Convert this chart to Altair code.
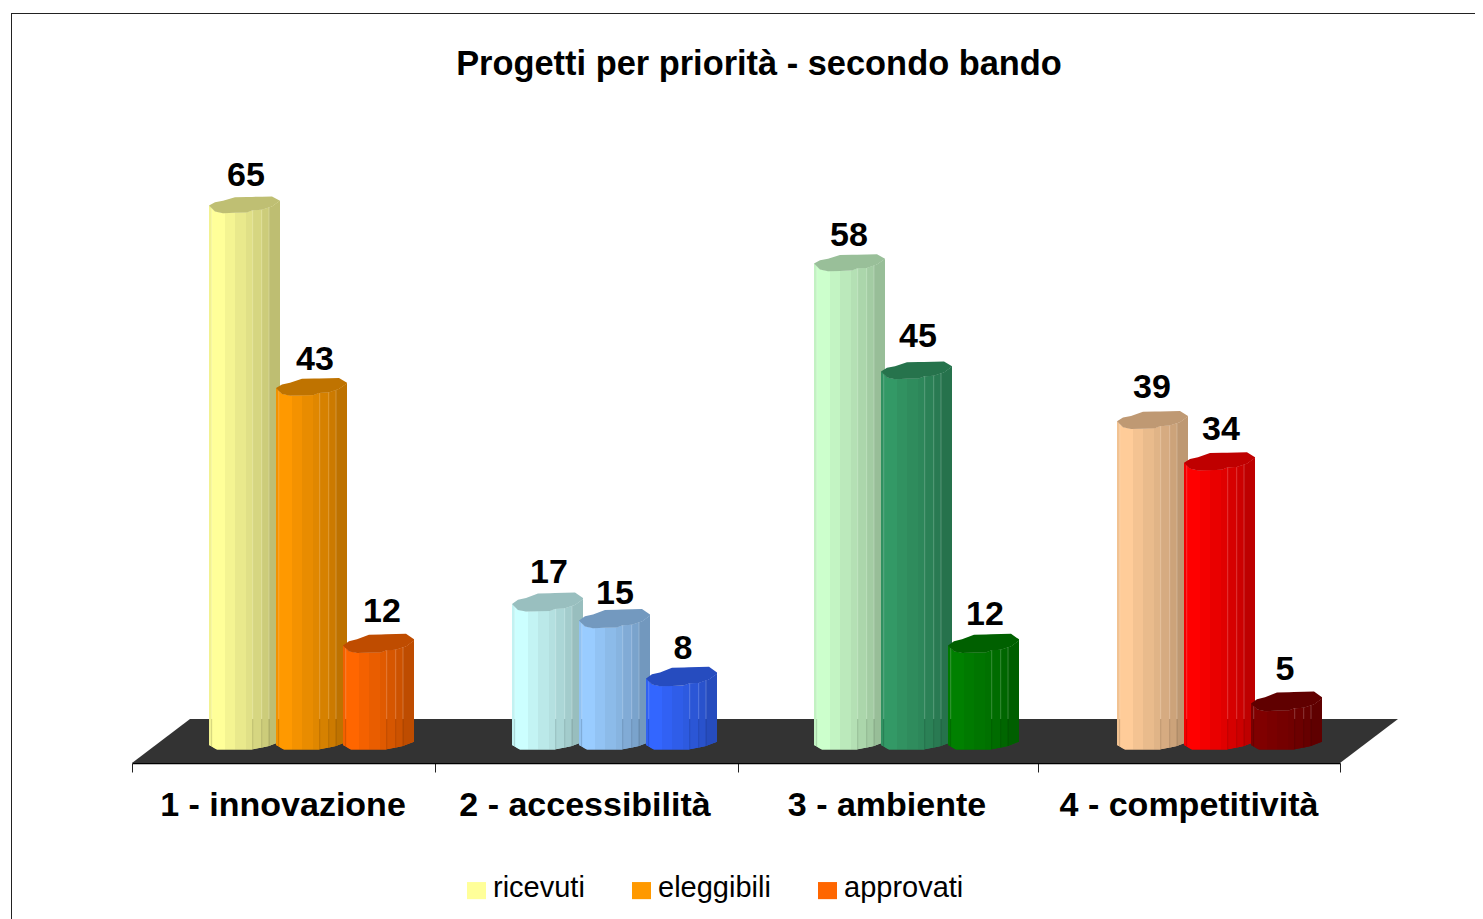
import altair as alt
import numpy as np
import pandas as pd

# ---------- values ----------
categories = ["1 - innovazione", "2 - accessibilità", "3 - ambiente", "4 - competitività"]
series = ["ricevuti", "eleggibili", "approvati"]
ricevuti = [65, 17, 58, 39]
eleggibili = [43, 15, 45, 34]
approvati = [12, 8, 12, 5]
bar_colors = [
    ["#FFFF99", "#FF9900", "#FF6600"],
    ["#CCFFFF", "#99CCFF", "#3366FF"],
    ["#CCFFCC", "#339966", "#008000"],
    ["#FFCC99", "#FF0000", "#800000"],
]
legend_colors = ["#FFFF99", "#FF9900", "#FF6600"]
title_text = "Progetti per priorità - secondo bando"
# small placement nudges of the value labels, per series then category (px)
label_up = [[2, 3, 0, 5], [0, -1, 7, 5], [5, 2, 2, 6]]
label_right = [[0, 0, -2, -2], [2, -1, 0, 0], [2, 0, 0, -3]]
group_shift = [0, 1, 1, 2]

# ---------- geometry of the chart ----------
PX_X = 302.0          # pixels per category
PX_Y = 8.3            # pixels per value unit
W, H = 1208, 750
Y_MIN = -18 / PX_Y
Y_MAX = Y_MIN + H / PX_Y
BAR_W = 71.0
BAR_START = 77.0
BAR_STEP = 67.0
FLOOR_BACK = 26 / PX_Y
FLOOR_SKEW = 58 / PX_X

# cylinder profile, in pixels relative to the bar's left edge / top-left corner
lower_x = [0, 6, 14, 38, 43, 53, 63, 71]
lower_y = [0, 6, 7.7, 7, 5, 4.3, 1, -4.7]
upper_x = [0, 6, 14, 26, 63, 71]
upper_y = [0, -3.3, -4.7, -8.3, -9, -4.7]
bottom_x = [0, 8, 43, 60, 71]
bottom_y = [0, 4.5, 4.5, 1, -3.3]
strip_edges = [0, 2.7, 16, 26, 37, 43.7, 52.7, 60, 71]
strip_shades = [0.95, 1.0, 0.955, 0.915, 0.88, 0.84, 0.80, 0.745]
cap_shade = 0.75
line_edges = [2.7, 43.7, 52.7, 60]
CAP_PERSPECTIVE = 0.35  # lower bars show more of their top


def shade(hex_color, f):
    r, g, b = (int(hex_color[i:i + 2], 16) for i in (1, 3, 5))
    return "#%02x%02x%02x" % (round(r * f), round(g * f), round(b * f))


values = [ricevuti, eleggibili, approvati]
area_rows, line_rows, label_rows = [], [], []
gid = 0
for c in range(len(categories)):
    for s in range(len(series)):
        v = values[s][c]
        base = bar_colors[c][s]
        left = c + (BAR_START + group_shift[c] + s * BAR_STEP) / PX_X
        k = 1 + (65 - v) / 65 * CAP_PERSPECTIVE
        to_x = lambda dx: left + dx / PX_X
        low = lambda dx: v - np.interp(dx, lower_x, lower_y) / PX_Y
        bot = lambda dx: -np.interp(dx, bottom_x, bottom_y) / PX_Y
        up = lambda dx: v - k * np.interp(dx, upper_x, upper_y) / PX_Y
        knots = sorted(set(lower_x + bottom_x + strip_edges))
        # underlay of the whole body
        gid += 1
        for dx in knots:
            area_rows.append(dict(g=gid, x=to_x(dx), y=low(dx), y2=bot(dx), fill=shade(base, 0.9)))
        # facets of the cylinder
        for i, f in enumerate(strip_shades):
            a, b = strip_edges[i], strip_edges[i + 1]
            gid += 1
            for dx in [q for q in knots if a <= q <= b]:
                area_rows.append(dict(g=gid, x=to_x(dx), y=low(dx), y2=bot(dx), fill=shade(base, f)))
        # top cap
        gid += 1
        for dx in sorted(set(lower_x + upper_x)):
            area_rows.append(dict(g=gid, x=to_x(dx), y=low(dx), y2=up(dx), fill=shade(base, cap_shade)))
        # thin facet lines: light above the floor, dark where the floor shows through
        for dx in line_edges:
            line_rows.append(dict(x=to_x(dx), y=min(low(dx), FLOOR_BACK), y2=bot(dx), c="#000000", o=0.14))
            if low(dx) > FLOOR_BACK:
                line_rows.append(dict(x=to_x(dx), y=low(dx), y2=FLOOR_BACK, c="#ffffff", o=0.22))
        label_rows.append(dict(
            x=to_x(BAR_W / 2 + 1.5 + label_right[s][c]),
            y=v + label_up[s][c] / PX_Y, t=str(v)))

areas = pd.DataFrame(area_rows)
lines = pd.DataFrame(line_rows)
labels = pd.DataFrame(label_rows)
floor = pd.DataFrame({
    "x": [0, FLOOR_SKEW, 4, 4 + FLOOR_SKEW],
    "y": [Y_MIN, FLOOR_BACK, FLOOR_BACK, FLOOR_BACK],
    "y2": [Y_MIN, Y_MIN, Y_MIN, FLOOR_BACK],
})
cats = pd.DataFrame({"x": [i + 0.5 for i in range(4)], "t": categories})
legend_df = pd.DataFrame({"series": series})

x_scale = alt.Scale(domain=[0, 4], nice=False, zero=False)
y_scale = alt.Scale(domain=[Y_MIN, Y_MAX], nice=False, zero=False)
X = alt.X("x:Q", scale=x_scale, axis=alt.Axis(
    values=[0, 1.003, 2.007, 3, 4], labels=False, title=None, grid=False,
    tickSize=9, tickColor="#222222", tickWidth=1, domainColor="#000000", domainWidth=1.6))
Y = alt.Y("y:Q", scale=y_scale, axis=None)

floor_layer = alt.Chart(floor).mark_area(color="#333333", interpolate="linear").encode(
    x=X, y=Y, y2="y2:Q")
bars_layer = alt.Chart(areas).mark_area(interpolate="linear").encode(
    x=X, y=Y, y2="y2:Q", fill=alt.Fill("fill:N", scale=None), detail="g:N")
lines_layer = alt.Chart(lines).mark_rule(strokeWidth=1).encode(
    x=X, y=Y, y2="y2:Q", color=alt.Stroke("c:N", scale=None), opacity=alt.Opacity("o:Q", scale=None))
value_text = alt.Chart(labels).mark_text(
    font="Liberation Sans", fontWeight="bold", fontSize=34, dy=-18, baseline="alphabetic",
    align="center", color="#000000").encode(x=X, y=Y, text="t:N")
cat_text = alt.Chart(cats).mark_text(
    font="Liberation Sans", fontWeight="bold", fontSize=34, baseline="alphabetic",
    align="center", color="#000000").encode(x=X, y=alt.value(H + 53), text="t:N")
border_v = alt.Chart(legend_df.head(1)).mark_rule(color="#222222", strokeWidth=1).encode(
    x=alt.value(-120.5), y=alt.value(0), y2=alt.value(H + 160))
border_h = alt.Chart(legend_df.head(1)).mark_rule(color="#222222", strokeWidth=1).encode(
    x=alt.value(-121), x2=alt.value(W + 150), y=alt.value(0.5))
legend_layer = alt.Chart(legend_df).mark_square(opacity=0, size=1).encode(
    x=alt.value(0), y=alt.value(0),
    color=alt.Color("series:N", scale=alt.Scale(domain=series, range=legend_colors), legend=alt.Legend(
        title=None, orient="none", legendX=330, legendY=860, direction="horizontal", columns=3,
        symbolType="M-1,-0.6H1V1.2H-1Z", symbolSize=361, symbolOpacity=1, symbolStrokeWidth=0,
        labelFont="Liberation Sans", labelFontSize=29, labelColor="#000000", labelOffset=2,
        columnPadding=42, padding=0, labelLimit=300)))

chart = alt.layer(
    border_v, border_h, floor_layer, bars_layer, lines_layer, value_text, cat_text, legend_layer
).properties(
    width=W, height=H,
    title=alt.TitleParams(title_text, font="Liberation Sans", fontWeight="bold", fontSize=34.4,
                          color="#000000", anchor="middle", dx=23, dy=97, offset=0,
                          baseline="alphabetic"),
    padding={"left": 124, "top": 5, "right": 135, "bottom": 156},
    autosize=alt.AutoSizeParams(type="none"),
    background="#ffffff",
).configure_view(stroke=None)

chart.save("out.html", embed_options={"renderer": "svg", "actions": False})
